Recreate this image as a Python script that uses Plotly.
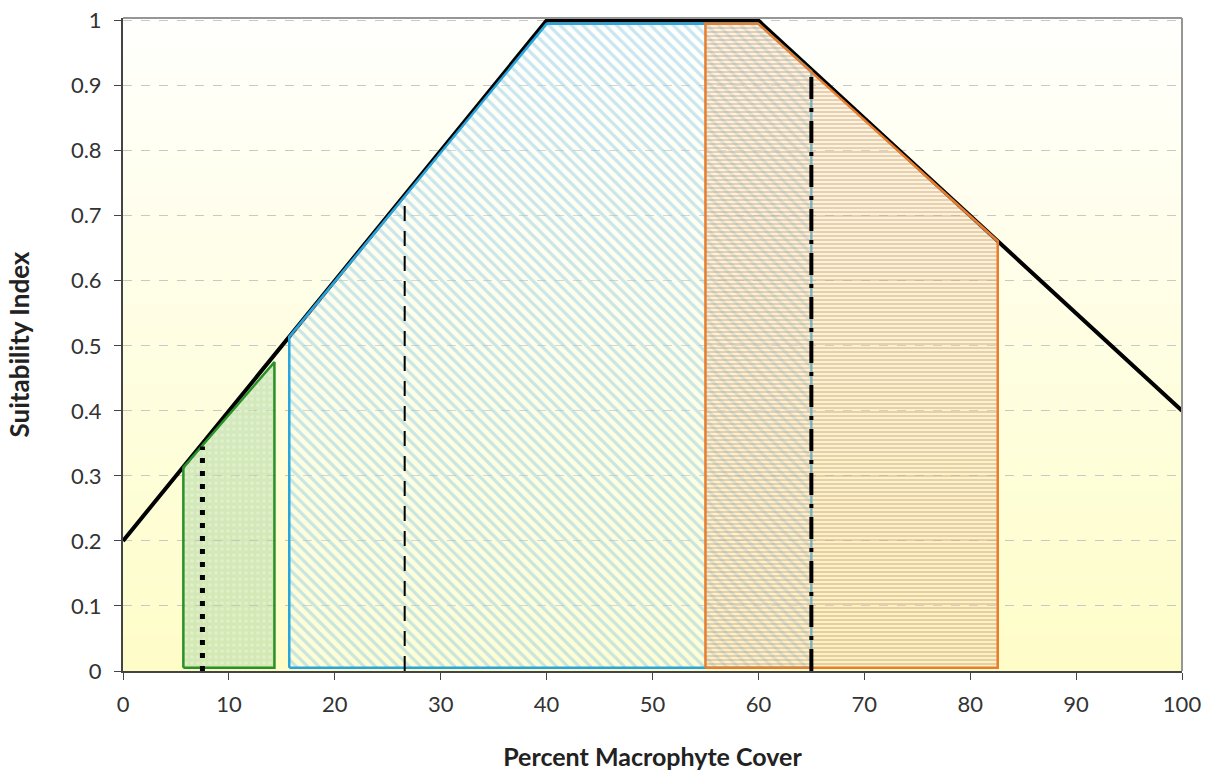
import plotly.graph_objects as go

# ---- data ----
si_x = [0, 40, 60, 100]
si_y = [0.2, 1.0, 1.0, 0.4]

green_x = [5.7, 5.7, 14.3, 14.3, 5.7]
green_y = [0.005, 0.313, 0.475, 0.005, 0.005]

blue_x = [15.7, 15.7, 40, 60, 65, 65, 15.7]
blue_y = [0.005, 0.514, 0.995, 0.995, 0.922, 0.005, 0.005]

orange_x = [55, 55, 60, 82.6, 82.6, 55]
orange_y = [0.005, 0.995, 0.995, 0.661, 0.005, 0.005]

dotted_x = [7.5, 7.5]
dotted_y = [0, 0.345]
dashed_x = [26.6, 26.6]
dashed_y = [0, 0.73]
dashdot_x = [65, 65]
dashdot_y = [0, 0.915]

x_ticks = [0, 10, 20, 30, 40, 50, 60, 70, 80, 90, 100]
y_ticks = [0, 0.1, 0.2, 0.3, 0.4, 0.5, 0.6, 0.7, 0.8, 0.9, 1]
y_tick_text = ["0", "0.1", "0.2", "0.3", "0.4", "0.5", "0.6", "0.7", "0.8", "0.9", "1"]

FONT = "Lato"

fig = go.Figure()

# black suitability curve
fig.add_trace(go.Scatter(x=si_x, y=si_y, mode="lines",
                         line=dict(color="black", width=4), hoverinfo="skip"))

# blue polygon
fig.add_trace(go.Scatter(x=blue_x, y=blue_y, mode="lines", fill="toself",
                         line=dict(color="rgb(40,165,220)", width=2.5),
                         fillcolor="rgba(0,0,0,0)",
                         fillpattern=dict(shape="\\", fgcolor="rgba(135,200,225,0.9)",
                                          bgcolor="rgba(255,255,255,0.25)", size=8, solidity=0.4),
                         hoverinfo="skip"))

# orange polygon
fig.add_trace(go.Scatter(x=orange_x, y=orange_y, mode="lines", fill="toself",
                         line=dict(color="rgb(232,125,45)", width=2.5),
                         fillcolor="rgba(0,0,0,0)",
                         fillpattern=dict(shape="-", fgcolor="rgba(195,145,95,0.8)",
                                          bgcolor="rgba(245,220,185,0.35)", size=4, solidity=0.45),
                         hoverinfo="skip"))

# green polygon
fig.add_trace(go.Scatter(x=green_x, y=green_y, mode="lines", fill="toself",
                         line=dict(color="rgb(40,145,40)", width=2.5),
                         fillcolor="rgba(0,0,0,0)",
                         fillpattern=dict(shape=".", fgcolor="rgba(255,255,255,0.6)",
                                          bgcolor="rgba(175,215,160,0.55)", size=6, solidity=0.3),
                         hoverinfo="skip"))

# vertical reference lines
fig.add_trace(go.Scatter(x=dotted_x, y=dotted_y, mode="lines",
                         line=dict(color="black", width=5, dash="5px,8px"), hoverinfo="skip"))
fig.add_trace(go.Scatter(x=dashed_x, y=dashed_y, mode="lines",
                         line=dict(color="black", width=2, dash="15px,10px"), hoverinfo="skip"))
fig.add_trace(go.Scatter(x=dashdot_x, y=dashdot_y, mode="lines",
                         line=dict(color="black", width=4, dash="22px,9px,4px,9px"), hoverinfo="skip"))

# gradient background bands
shapes = []
n = 80
top = (255, 255, 253)
bot = (254, 253, 200)
for i in range(n):
    t = (i + 0.5) / n
    c = tuple(round(top[k] + (bot[k] - top[k]) * t) for k in range(3))
    shapes.append(dict(type="rect", xref="paper", yref="paper",
                       x0=0, x1=1, y0=1 - (i + 1) / n, y1=1 - i / n + 0.002,
                       fillcolor="rgb(%d,%d,%d)" % c, line=dict(width=0), layer="below"))
# top / right frame
shapes.append(dict(type="line", xref="paper", yref="paper", x0=0, x1=1, y0=1, y1=1,
                   line=dict(color="rgb(150,150,150)", width=2), layer="above"))
shapes.append(dict(type="line", xref="paper", yref="paper", x0=1, x1=1, y0=0, y1=1,
                   line=dict(color="rgb(150,150,150)", width=2), layer="above"))

fig.update_layout(
    width=1211, height=772,
    margin=dict(l=123, r=29, t=18, b=101, autoexpand=False),
    paper_bgcolor="white",
    plot_bgcolor="rgba(0,0,0,0)",
    showlegend=False,
    shapes=shapes,
    font=dict(family=FONT, color="#333333"),
    xaxis=dict(range=[0, 100], tickvals=x_ticks, ticks="outside", ticklen=7,
               tickcolor="#444444", showline=True, linecolor="#444444", linewidth=2,
               showgrid=False, zeroline=False, automargin=False, ticklabelstandoff=6,
               tickfont=dict(size=22, family=FONT, color="#333333"),
               title=dict(text="<b>Percent Macrophyte Cover</b>", standoff=32,
                          font=dict(size=25, family=FONT, color="#222222"))),
    yaxis=dict(range=[0, 1.004], tickvals=y_ticks, ticktext=y_tick_text, ticks="outside",
               ticklen=7, tickcolor="#444444", showline=True, linecolor="#444444",
               linewidth=2, showgrid=True, gridcolor="rgb(200,200,200)", griddash="dash",
               gridwidth=1, zeroline=False, automargin=False, ticklabelstandoff=8,
               tickfont=dict(size=22, family=FONT, color="#333333"),
               title=dict(text="<b>Suitability Index</b>", standoff=34,
                          font=dict(size=26, family=FONT, color="#222222"))),
)

fig.write_html("out.html", config={"displayModeBar": False},
               post_script="document.body.style.margin='0px';")
